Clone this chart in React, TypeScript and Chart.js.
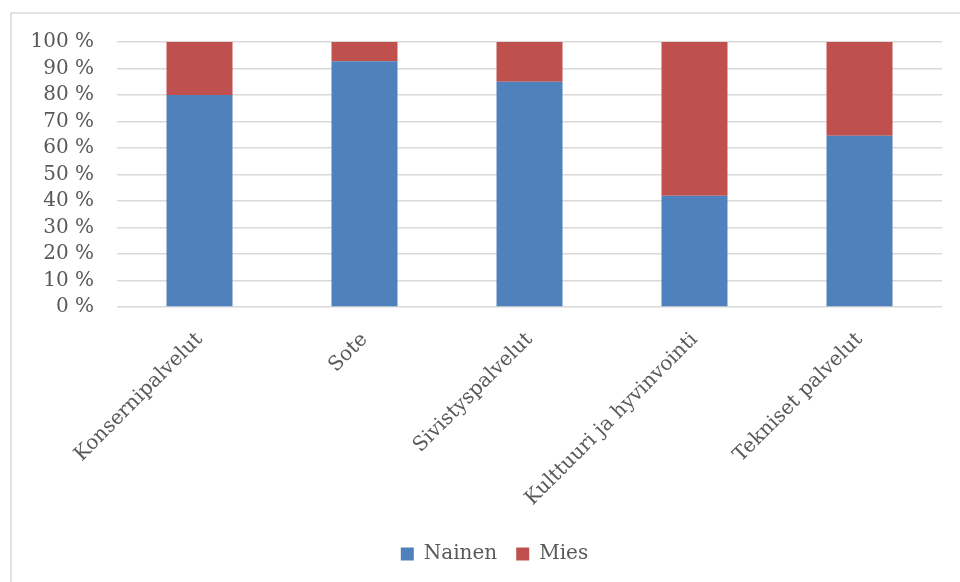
import React, { useEffect, useRef } from "react";
import { Chart, registerables } from "chart.js";

Chart.register(...registerables);

const categories = [
  "Konsernipalvelut",
  "Sote",
  "Sivistyspalvelut",
  "Kulttuuri ja hyvinvointi",
  "Tekniset palvelut",
];
const nainen = [80, 92.7, 85, 42, 64.6];
const mies = [20, 7.3, 15, 58, 35.4];
const yTicks = [0, 10, 20, 30, 40, 50, 60, 70, 80, 90, 100];

const FONT = "'DejaVu Serif', serif";
const TEXT = "#595959";
const GRID = "#D9D9D9";

// White background plus the thin outer frame of the chart object
const framePlugin = {
  id: "frame",
  beforeDraw(chart: Chart) {
    const ctx = chart.ctx;
    ctx.save();
    ctx.fillStyle = "#ffffff";
    ctx.fillRect(0, 0, chart.width, chart.height);
    ctx.strokeStyle = GRID;
    ctx.lineWidth = 1.5;
    ctx.strokeRect(11, 13, chart.width + 20, chart.height + 20);
    ctx.restore();
  },
};

// Centre the legend on the whole frame rather than on the plot columns
const legendShift = {
  id: "legendShift",
  afterLayout(chart: any) {
    const lg = chart.legend;
    if (lg) {
      lg.left += 18;
      lg.right += 18;
    }
  },
};

export default function App() {
  const ref = useRef<HTMLCanvasElement | null>(null);

  useEffect(() => {
    if (!ref.current) return;
    const chart = new Chart(ref.current, {
      type: "bar",
      data: {
        labels: categories,
        datasets: [
          {
            label: "Nainen",
            data: nainen,
            backgroundColor: "#4F81BD",
            borderWidth: 0,
          },
          {
            label: "Mies",
            data: mies,
            backgroundColor: "#C0504D",
            borderWidth: 0,
          },
        ],
      },
      options: {
        animation: false,
        responsive: false,
        layout: { padding: { left: 11, top: 42, right: 18, bottom: 8 } },
        datasets: {
          bar: { categoryPercentage: 1, barPercentage: 0.4 },
        },
        scales: {
          x: {
            stacked: true,
            grid: { display: false },
            border: { display: false },
            ticks: {
              color: TEXT,
              font: { family: FONT, size: 20 },
              maxRotation: 45,
              minRotation: 45,
              autoSkip: false,
              padding: 13,
            },
            afterFit(scale: any) {
              scale.height = 218;
            },
          },
          y: {
            stacked: true,
            min: 0,
            max: 100,
            afterBuildTicks(scale: any) {
              scale.ticks = yTicks.map((v) => ({ value: v }));
            },
            grid: { color: GRID, lineWidth: 1.5, drawTicks: false },
            border: { display: false },
            ticks: {
              color: TEXT,
              font: { family: FONT, size: 20 },
              padding: 23,
              autoSkip: false,
              callback: (v: any) => `${v} %`,
            },
            afterFit(scale: any) {
              scale.width = 106;
            },
          },
        },
        plugins: {
          legend: {
            position: "bottom",
            labels: {
              color: TEXT,
              font: { family: FONT, size: 20 },
              boxWidth: 13,
              boxHeight: 13,
              padding: 19,
            },
          },
          tooltip: { enabled: false },
        },
      },
      plugins: [framePlugin, legendShift],
    });
    return () => chart.destroy();
  }, []);

  return (
    <div style={{ position: "absolute", left: 0, top: 0, width: 960, height: 582 }}>
      <canvas ref={ref} width={960} height={582} />
    </div>
  );
}
